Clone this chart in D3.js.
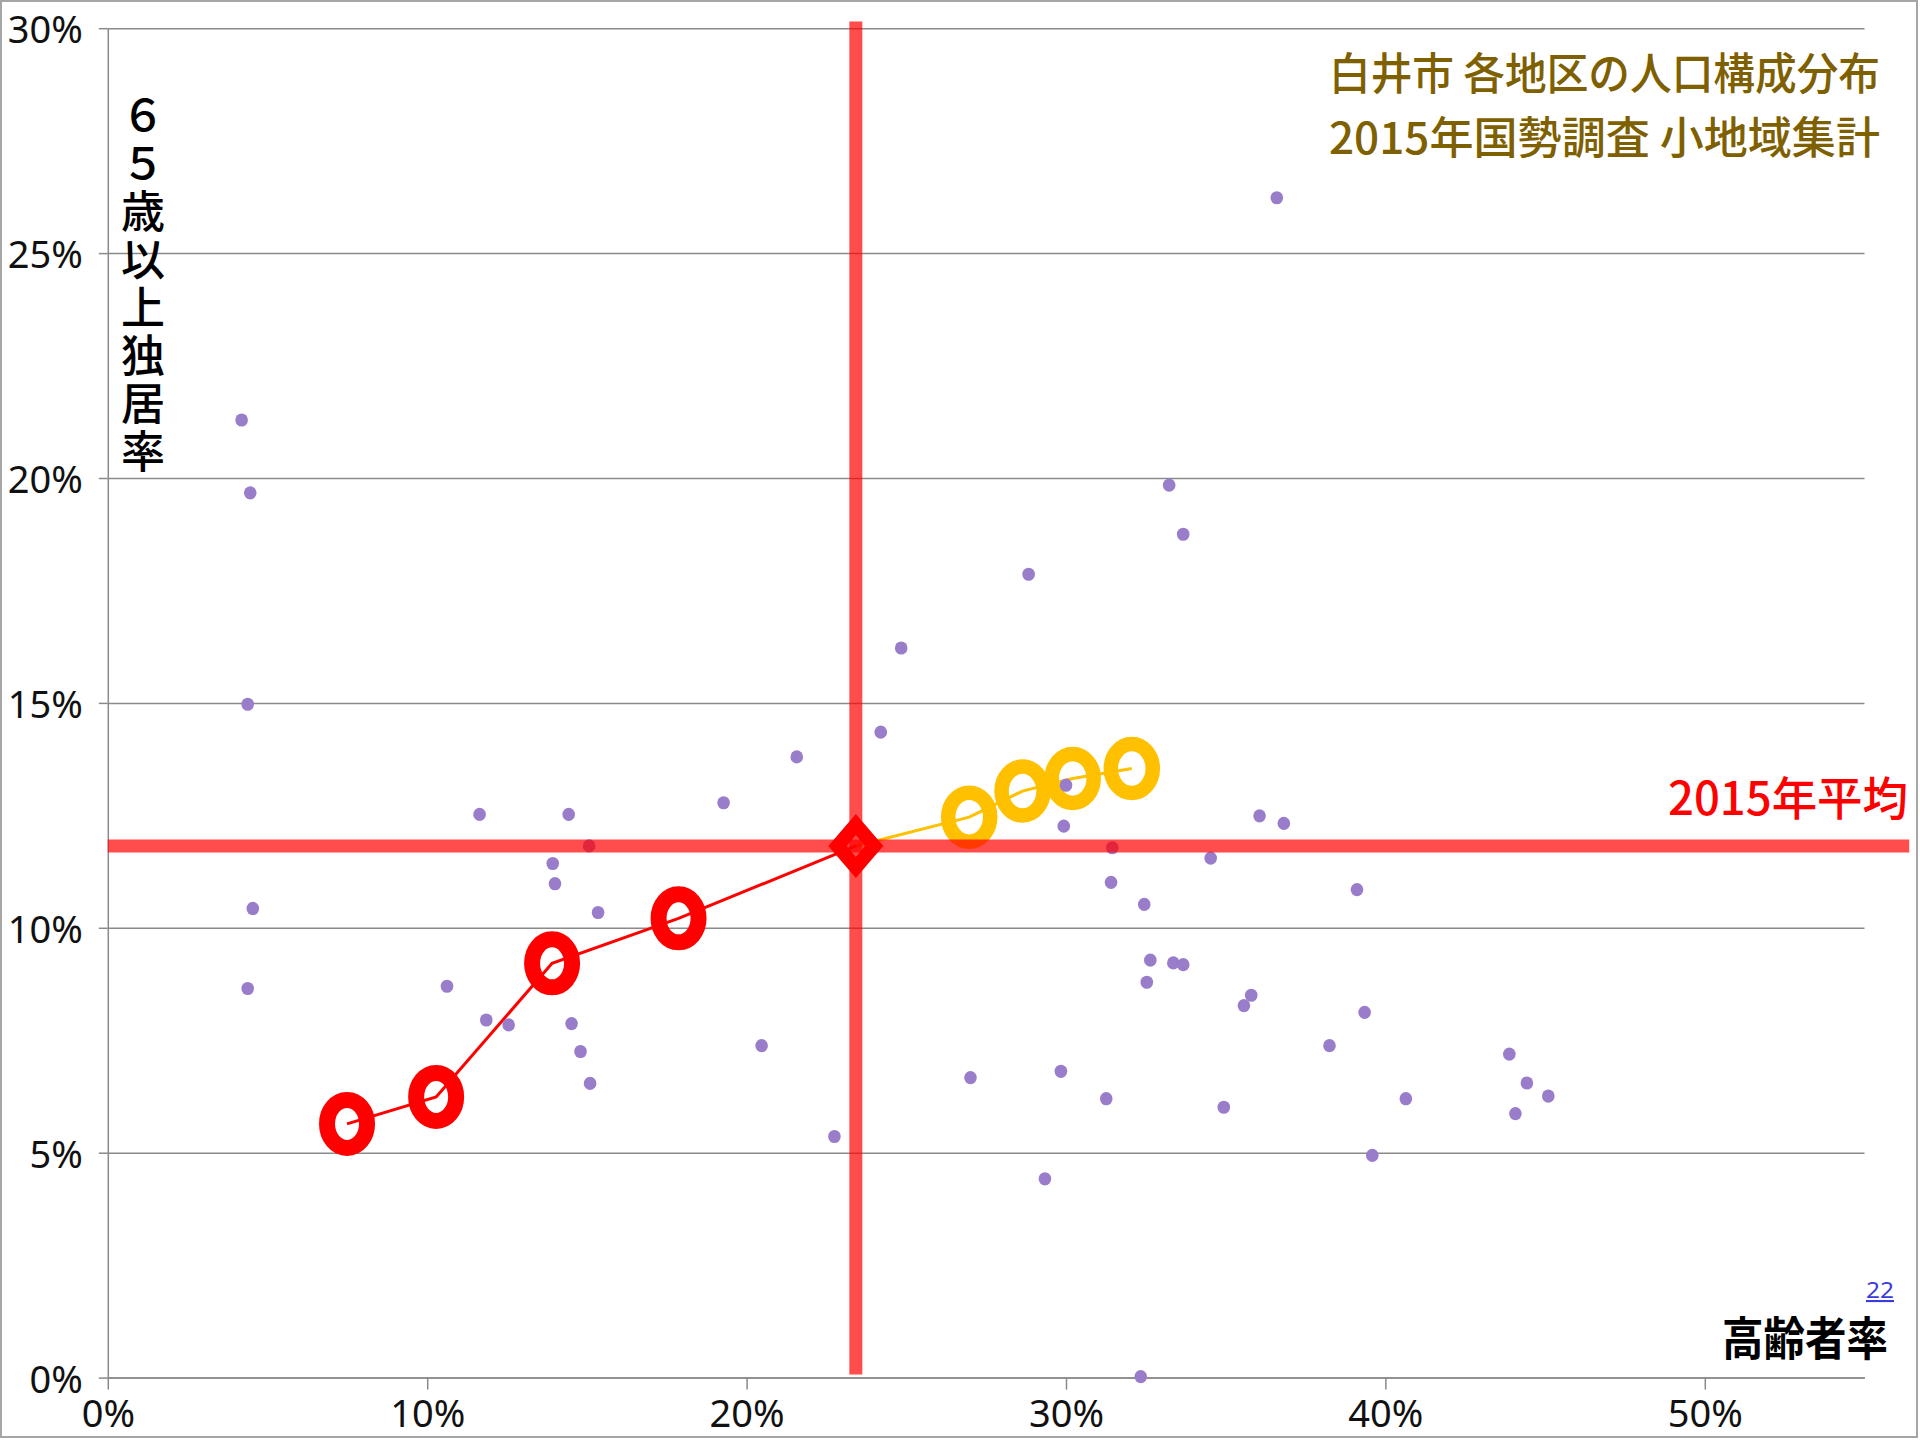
<!DOCTYPE html>
<html><head><meta charset="utf-8">
<script src="https://cdn.jsdelivr.net/npm/d3@7"></script>
<style>
html,body{margin:0;padding:0;background:#fff;}
svg{display:block;}
</style></head>
<body>
<svg id="chart" width="1920" height="1440"></svg>
<script>
// ---- data (percent values) ----
const dotX = [4.19,4.46,4.38,4.54,4.38,10.62,11.64,11.85,12.55,13.93,14.00,14.43,15.07,15.35,14.52,14.80,15.10,
  19.28,20.47,21.57,22.75,24.20,24.84,27.01,28.83,29.34,29.84,29.93,30.00,31.26,31.41,31.45,32.34,32.45,
  32.64,32.53,33.36,33.67,33.23,33.67,34.53,34.94,35.57,35.80,36.06,36.60,36.82,38.25,39.11,39.35,39.59,40.64,
  43.88,44.07,44.43,45.10];
const dotY = [21.29,19.67,14.97,10.43,8.65,8.70,12.52,7.95,7.84,11.43,10.98,12.52,11.82,10.34,7.87,7.25,6.54,
  12.78,7.38,13.80,5.36,14.35,16.22,6.67,17.86,4.42,6.81,12.26,13.17,6.20,11.01,11.78,0.02,10.52,
  9.28,8.79,9.22,9.18,19.84,18.75,11.55,6.01,8.27,8.50,12.49,26.23,12.32,7.38,10.85,8.12,4.94,6.20,
  7.19,5.87,6.55,6.26];
const redTrendX = [7.49,10.28,13.91,17.87];
const redTrendY = [5.64,6.24,9.21,10.21];
const yellowTrendX = [26.97,28.64,30.21,32.06];
const yellowTrendY = [12.46,13.04,13.32,13.54];
const avgX = 23.42;
const avgY = 11.82;
const xTicks = [0,10,20,30,40,50];
const yTicks = [0,5,10,15,20,25,30];
const titleLines = ["白井市 各地区の人口構成分布","2015年国勢調査 小地域集計"];
const yTitle = "６５歳以上独居率";
const xTitle = "高齢者率";
const avgLabel = "2015年平均";
const pageNo = "22";

// ---- drawing ----
const svg = d3.select("#chart");
const x = d3.scaleLinear().domain([0,55]).range([107.8,1864.5]);
const y = d3.scaleLinear().domain([0,30]).range([1377.6,28.2]);
const W = x(55)-x(0);
const fmt = d => d + "%";
const gray = "#8a8a8a";

svg.append("rect").attr("x",1).attr("y",1).attr("width",1916).attr("height",1436)
  .attr("fill","#fff").attr("stroke","#a6a6a6").attr("stroke-width",2);

// gridlines
const grid = svg.append("g").attr("transform",`translate(${x(0)},0)`)
  .call(d3.axisLeft(y).tickValues(yTicks).tickSize(-W).tickFormat(""));
grid.select(".domain").remove();
grid.selectAll("line").attr("stroke",gray).attr("stroke-width",1.5);

// y axis
const ya = svg.append("g").attr("transform",`translate(${x(0)},0)`)
  .call(d3.axisLeft(y).tickValues(yTicks).tickSize(9).tickSizeOuter(0).tickPadding(16).tickFormat(fmt));
ya.select(".domain").attr("stroke",gray).attr("stroke-width",1.5);
ya.selectAll("line").attr("stroke",gray).attr("stroke-width",1.5);
ya.selectAll("text").attr("font-family","'Noto Sans', sans-serif").attr("font-size",38).attr("fill","#111").attr("dy","0.38em");

// x axis
const xa = svg.append("g").attr("transform",`translate(0,${y(0)})`)
  .call(d3.axisBottom(x).tickValues(xTicks).tickSize(12).tickSizeOuter(0).tickPadding(10).tickFormat(fmt));
xa.select(".domain").attr("stroke",gray).attr("stroke-width",1.5);
xa.selectAll("line").attr("stroke",gray).attr("stroke-width",1.5);
xa.selectAll("text").attr("font-family","'Noto Sans', sans-serif").attr("font-size",38).attr("fill","#111");

// rings
const ringG = svg.append("g");
ringG.selectAll("ellipse.red").data(redTrendX).enter().append("ellipse")
  .attr("cx",(d)=>x(d)).attr("cy",(d,i)=>y(redTrendY[i])).attr("rx",20).attr("ry",24)
  .attr("fill","none").attr("stroke","#ff0000").attr("stroke-width",16);
ringG.selectAll("ellipse.yel").data(yellowTrendX).enter().append("ellipse")
  .attr("cx",(d)=>x(d)).attr("cy",(d,i)=>y(yellowTrendY[i])).attr("rx",21).attr("ry",24.5)
  .attr("fill","none").attr("stroke","#ffc000").attr("stroke-width",14.5);

// connecting lines
const line = d3.line().x(d=>x(d[0])).y(d=>y(d[1]));
const redPts = redTrendX.map((v,i)=>[v,redTrendY[i]]).concat([[avgX,avgY]]);
const yelPts = [[avgX,avgY]].concat(yellowTrendX.map((v,i)=>[v,yellowTrendY[i]]));
svg.append("path").attr("d",line(redPts)).attr("fill","none").attr("stroke","#ff0000").attr("stroke-width",3);
svg.append("path").attr("d",line(yelPts)).attr("fill","none").attr("stroke","#ffc000").attr("stroke-width",3);

// dots
svg.append("g").selectAll("ellipse").data(dotX).enter().append("ellipse")
  .attr("cx",d=>x(d)).attr("cy",(d,i)=>y(dotY[i])).attr("rx",6.3).attr("ry",6.6)
  .attr("fill","#9a7dca");

// average lines
svg.append("line").attr("x1",x(avgX)).attr("x2",x(avgX)).attr("y1",y(0)-3).attr("y2",y(30.15))
  .attr("stroke","rgba(255,0,0,0.7)").attr("stroke-width",13);
svg.append("line").attr("x1",x(0)).attr("x2",x(56.4)).attr("y1",y(avgY)).attr("y2",y(avgY))
  .attr("stroke","rgba(255,0,0,0.7)").attr("stroke-width",13);

// diamond marker for average
const cx = x(avgX), cy = y(avgY);
const ow=27.5, oh=32, iw=9, ih=11;
svg.append("path")
  .attr("d",`M${cx-ow},${cy}L${cx},${cy-oh}L${cx+ow},${cy}L${cx},${cy+oh}Z M${cx-iw},${cy}L${cx},${cy+ih}L${cx+iw},${cy}L${cx},${cy-ih}Z`)
  .attr("fill","#ff0000").attr("fill-rule","evenodd");

// titles
const tg = svg.append("g").attr("font-family","'Noto Sans CJK JP', sans-serif").attr("fill","#7f6000")
  .attr("font-size",44).attr("font-weight",500).attr("text-anchor","start");
tg.append("text").attr("x",1329).attr("y",90).attr("textLength",551).attr("lengthAdjust","spacingAndGlyphs").text(titleLines[0]);
tg.append("text").attr("x",1329).attr("y",154).attr("textLength",551).attr("lengthAdjust","spacingAndGlyphs").text(titleLines[1]);

// avg label
svg.append("text").attr("x",1668).attr("y",815).attr("textLength",240).attr("lengthAdjust","spacingAndGlyphs")
  .attr("font-family","'Noto Sans CJK JP', sans-serif").attr("font-size",46).attr("font-weight",500)
  .attr("fill","#ff0000").text(avgLabel);

// y title vertical (single text, vertical writing)
svg.append("text").attr("x",143).attr("y",93)
  .style("writing-mode","vertical-rl").style("text-orientation","upright")
  .attr("letter-spacing",4)
  .attr("font-family","'Noto Sans CJK JP', sans-serif").attr("font-size",44).attr("font-weight",500)
  .attr("fill","#000").text(yTitle);

// x title
svg.append("text").attr("x",1722).attr("y",1355).attr("textLength",166).attr("lengthAdjust","spacingAndGlyphs")
  .attr("font-family","'Noto Sans CJK JP', sans-serif").attr("font-size",46).attr("font-weight",700)
  .attr("fill","#000").text(xTitle);

// page number
svg.append("text").attr("x",1866).attr("y",1298).attr("textLength",28).attr("lengthAdjust","spacingAndGlyphs")
  .attr("font-family","'Noto Sans', sans-serif").attr("font-size",21)
  .attr("fill","#3b3bdc").attr("text-decoration","underline").text(pageNo);
</script>
</body></html>
